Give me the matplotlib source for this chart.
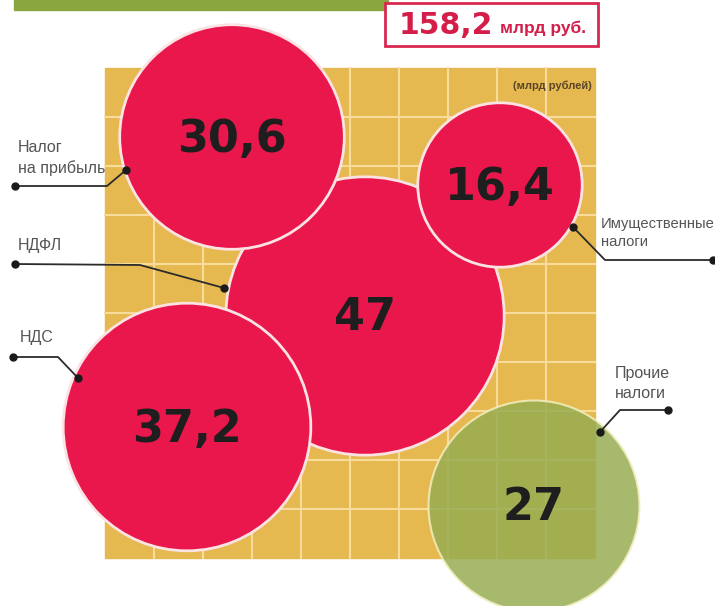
import matplotlib.pyplot as plt
import numpy as np
from matplotlib.patches import Circle, Rectangle

plt.rcParams['font.family'] = ['Liberation Sans', 'DejaVu Sans']

# данные: налоги, млрд руб.
labels = ["Налог\nна прибыль", "НДФЛ", "НДС", "Имущественные\nналоги", "Прочие\nналоги"]
values = [30.6, 47, 37.2, 16.4, 27]
value_text = ["30,6", "47", "37,2", "16,4", "27"]
total_text = "158,2"
unit_text = "млрд руб."
grid_note = "(млрд рублей)"

# раскладка (в пикселях картинки)
centers = [(232, 137), (365, 316), (187, 427), (500, 185), (534, 506)]
draw_order = [1, 0, 2, 3, 4]
k = 20.3  # площадь круга ~ значение
text_pos = [(18, 140), (18, 238), (20, 330), (601, 217), (615, 366)]
label_size = [11.5, 11.5, 11.5, 10.6, 11.5]
leaders = [
    [(15, 186), (107, 186), (126, 170)],
    [(15, 264), (140, 265), (224, 288)],
    [(13, 357), (58, 357), (78, 378)],
    [(713, 260), (605, 260), (573, 227)],
    [(668, 410), (620, 410), (600, 432)],
]

red = "#e9174b"
green = "#98ad52"
gold = "#e6b850"

fig = plt.figure(figsize=(7.15, 6.06), dpi=100)
ax = fig.add_axes([0, 0, 1, 1])
ax.set_xlim(0, 715)
ax.set_ylim(606, 0)
ax.axis("off")

# зеленая полоса и плашка с итогом
ax.add_patch(Rectangle((14, 0), 374, 10, color="#8aa63e", zorder=1))
ax.add_patch(Rectangle((385, 3), 213, 43, facecolor="white", edgecolor="#d8284f", lw=2, zorder=2))
ax.text(399, 25, total_text, color="#d41d48", fontsize=21.5, fontweight="bold",
        family=["DejaVu Sans"], va="center", ha="left", zorder=3)
ax.text(500, 28, unit_text, color="#d41d48", fontsize=12.5, fontweight="bold",
        va="center", ha="left", zorder=3)

# клетчатый фон
gx0, gy0, cell, n = 105, 68, 49, 10
ax.add_patch(Rectangle((gx0, gy0), cell * n, cell * n, color=gold, zorder=1))
for i in range(1, n):
    ax.plot([gx0 + i * cell] * 2, [gy0, gy0 + cell * n], color="#f8dc9c", lw=1.5, zorder=1.5)
    ax.plot([gx0, gx0 + cell * n], [gy0 + i * cell] * 2, color="#f8dc9c", lw=1.5, zorder=1.5)
ax.text(592, 86, grid_note, fontsize=8, fontweight="bold", color="#5a4526",
        ha="right", va="center", zorder=2)

# круги
for z, i in enumerate(draw_order):
    r = k * np.sqrt(values[i])
    if i == 4:
        ax.add_patch(Circle(centers[i], r, facecolor=green, edgecolor="#f3efc0",
                            lw=1.5, alpha=0.85, zorder=3 + z))
    else:
        ax.add_patch(Circle(centers[i], r, facecolor=red, edgecolor="#fbe3e3",
                            lw=2, zorder=3 + z))
    ax.text(centers[i][0], centers[i][1] + 2, value_text[i], fontsize=32, fontweight="bold",
            family=["DejaVu Sans"], color="#1e1e1e", ha="center", va="center", zorder=10)

# подписи и выноски
for i, lab in enumerate(labels):
    ax.text(text_pos[i][0], text_pos[i][1], lab, fontsize=label_size[i], color="#555555",
            ha="left", va="top", linespacing=1.4, zorder=12)
    xs, ys = zip(*leaders[i])
    ax.plot(xs, ys, color="#2b2b2b", lw=1.3, zorder=12)
    ax.plot([xs[0], xs[-1]], [ys[0], ys[-1]], "o", color="#1a1a1a", ms=5, zorder=13)

fig.savefig("out.png", dpi=100)
